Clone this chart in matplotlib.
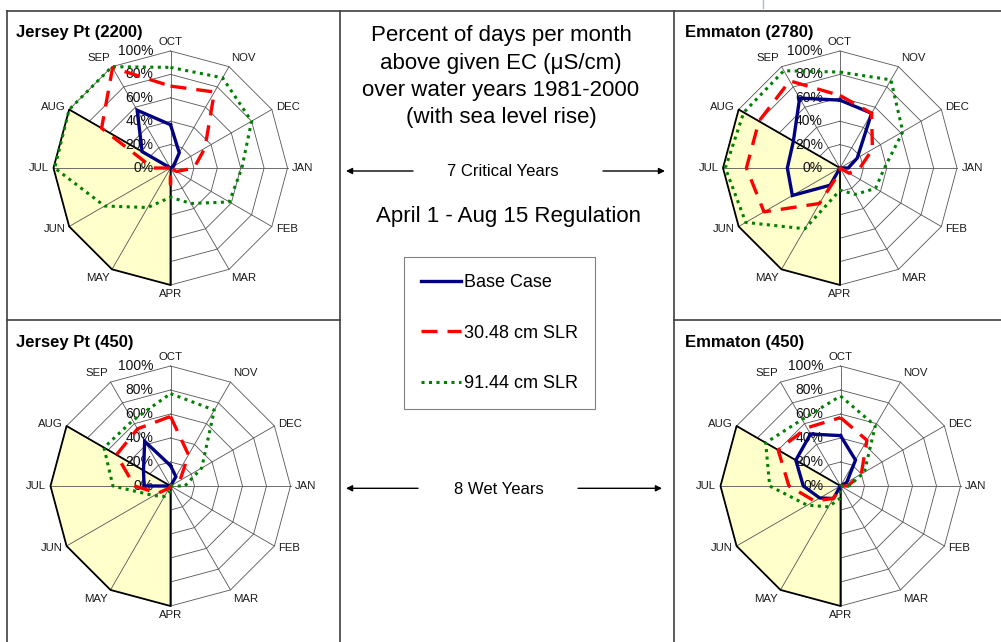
import numpy as np
import matplotlib
matplotlib.use("Agg")
import matplotlib.pyplot as plt
from matplotlib.lines import Line2D

plt.rcParams['font.family'] = ['Liberation Sans', 'DejaVu Sans']

# ---------------- data ----------------
months = ['OCT', 'NOV', 'DEC', 'JAN', 'FEB', 'MAR', 'APR', 'MAY', 'JUN', 'JUL', 'AUG', 'SEP']
radial_ticks = [0, 20, 40, 60, 80, 100]
regulation = [0, 0, 0, 0, 0, 0, 100, 100, 100, 100, 100, 0]

series_names = ['Base Case', '30.48 cm SLR', '91.44 cm SLR']

jp2200_base = [37, 15, 3, 0, 0, 0, 0, 0, 0, 0, 28, 57]
jp2200_slr30 = [70, 75, 34, 20, 6, 0, 14, 0, 0, 15, 68, 99]
jp2200_slr91 = [86, 89, 80, 61, 58, 35, 25, 39, 65, 99, 100, 100]

em2780_base = [58, 54, 17, 7, 0, 0, 0, 17, 47, 45, 46, 69]
em2780_slr30 = [62, 54, 32, 17, 9, 0, 3, 35, 75, 80, 80, 86]
em2780_slr91 = [82, 87, 62, 38, 35, 26, 19, 60, 93, 98, 95, 96]

jp450_base = [17, 9, 0, 0, 0, 0, 0, 0, 0, 22, 26, 43]
jp450_slr30 = [58, 30, 9, 0, 0, 0, 0, 2, 12, 30, 52, 55]
jp450_slr91 = [77, 73, 30, 12, 0, 0, 4, 10, 16, 48, 64, 63]

em450_base = [42, 25, 6, 0, 0, 0, 0, 12, 20, 31, 43, 50]
em450_slr30 = [57, 44, 20, 6, 0, 0, 2, 12, 25, 43, 60, 56]
em450_slr91 = [75, 58, 23, 7, 0, 0, 10, 20, 32, 59, 72, 64]

panel_titles = ['Jersey Pt (2200)', 'Emmaton (2780)', 'Jersey Pt (450)', 'Emmaton (450)']

title_lines = ['Percent of days per month', 'above given EC (\u03bcS/cm)',
               'over water years 1981-2000', '(with sea level rise)']
critical_label = '7 Critical Years'
wet_label = '8 Wet Years'
regulation_label = 'April 1 - Aug 15 Regulation'

# ---------------- styles ----------------
W, H = 1001, 642
fig = plt.figure(figsize=(W / 100, H / 100), dpi=100)
fig.patch.set_facecolor('white')

styles = [
    dict(color='#000080', lw=2.4, ls='-', solid_joinstyle='miter'),
    dict(color='#FF0000', lw=2.4, ls=(0, (4.8, 3.0)), dash_capstyle='butt'),
    dict(color='#008000', lw=2.2, ls=(0, (1.0, 1.45)), dash_capstyle='butt'),
]
grid_color = '#555555'


def fx(x):
    return x / W


def fy(y):
    return 1 - y / H


def radar(cx, cy, R, title, title_x, title_base_y, data):
    ax = fig.add_axes([fx(cx - R), fy(cy + R), 2 * R / W, 2 * R / H], projection='polar')
    ax.set_theta_zero_location('N')
    ax.set_theta_direction(-1)
    ax.set_ylim(0, 100)
    ax.set_xticks([])
    ax.set_yticks([])
    ax.grid(False)
    ax.spines['polar'].set_visible(False)
    ax.patch.set_visible(False)

    n = len(months)
    theta = np.deg2rad(np.arange(n) * 360.0 / n)
    tc = np.append(theta, theta[0])

    # rings
    for v in radial_ticks[1:]:
        ax.plot(tc, [v] * (n + 1), color=grid_color, lw=0.6, zorder=1, clip_on=False)
    # regulation fill
    reg = np.append(regulation, regulation[0])
    ax.fill(tc, reg, facecolor='#FFFFCC', edgecolor='none', zorder=2, clip_on=False)
    # spokes
    for t in theta:
        ax.plot([t, t], [0, 100], color=grid_color, lw=0.6, zorder=3, clip_on=False)
    ax.plot(tc, reg, color='black', lw=1.3, zorder=3.5, clip_on=False)

    # radial labels
    for v in radial_ticks:
        ax.annotate(f'{v}%', xy=(0, v), xytext=(-12.3, 0), textcoords='offset points',
                    ha='right', va='center', fontsize=10, color='#111111', zorder=3.7)

    # month labels
    for i, (t, m) in enumerate(zip(theta, months)):
        sx, cyy = np.sin(t), np.cos(t)
        ha = 'center' if abs(sx) < 0.1 else ('left' if sx > 0 else 'right')
        va = 'bottom' if cyy > 0.7 else ('top' if cyy < -0.7 else 'center')
        ax.annotate(m, xy=(t, 100), xytext=(3.2 * sx, 3.2 * cyy), textcoords='offset points',
                    ha=ha, va=va, fontsize=8.2, color='#1a1a1a', annotation_clip=False)

    # series
    for vals, st in zip(data, styles):
        ax.plot(tc, np.append(vals, vals[0]), zorder=4, clip_on=False, **st)

    fig.text(fx(title_x), fy(title_base_y), title, fontsize=12, fontweight='bold',
             ha='left', va='baseline')
    return ax


radar(170.5, 168, 117, panel_titles[0], 16.5, 36.5, [jp2200_base, jp2200_slr30, jp2200_slr91])
radar(840, 168, 117, panel_titles[1], 685, 36.5, [em2780_base, em2780_slr30, em2780_slr91])
radar(170.5, 486, 120, panel_titles[2], 16.5, 346.5, [jp450_base, jp450_slr30, jp450_slr91])
radar(840.5, 486, 120, panel_titles[3], 685, 346.5, [em450_base, em450_slr30, em450_slr91])

# ---------------- frame lines ----------------
fc = '#404040'
frame = [((7, 11), (1001, 11)), ((7, 11), (7, 642)), ((340, 11), (340, 642)),
         ((674, 11), (674, 642)), ((7, 320), (340, 320)), ((674, 320), (1001, 320))]
for (x0, y0), (x1, y1) in frame:
    fig.add_artist(Line2D([fx(x0), fx(x1)], [fy(y0), fy(y1)], color=fc, lw=1.2,
                          transform=fig.transFigure))
fig.add_artist(Line2D([fx(763), fx(763)], [fy(0), fy(8)], color='#a9bdd6', lw=1.0,
                      transform=fig.transFigure))

# ---------------- centre texts ----------------
for line, base in zip(title_lines, [41, 69.3, 96, 122.5]):
    fig.text(fx(501), fy(base), line, fontsize=16, ha='center', va='baseline')

fig.text(fx(502.5), fy(175.5), critical_label, fontsize=12, ha='center', va='baseline')
fig.text(fx(498.5), fy(494.5), wet_label, fontsize=12, ha='center', va='baseline')
fig.text(fx(508), fy(222), regulation_label, fontsize=16, ha='center', va='baseline')

arrow_kw = dict(arrowstyle='-|>', color='black', lw=1.0, mutation_scale=9, shrinkA=0, shrinkB=0)
for (x0, x1, y) in [(413, 346, 171), (603, 665, 171), (418, 346, 488.3), (578, 662, 488.3)]:
    fig.add_artist(matplotlib.patches.FancyArrowPatch((fx(x0), fy(y)), (fx(x1), fy(y)),
                                                      transform=fig.transFigure, **arrow_kw))

# ---------------- legend ----------------
handles = [Line2D([], [], **st) for st in styles]
leg = fig.legend(handles, series_names, loc='upper left',
                 bbox_to_anchor=(fx(404), fy(257)), bbox_transform=fig.transFigure,
                 frameon=True, fancybox=False, shadow=False, fontsize=13,
                 handlelength=2.2, handletextpad=0.15, labelspacing=1.85,
                 borderpad=0.95, borderaxespad=0)
leg.get_frame().set_edgecolor('#808080')
leg.get_frame().set_linewidth(0.8)
leg.get_frame().set_alpha(1)

fig.savefig('out.png', dpi=100, facecolor='white')
